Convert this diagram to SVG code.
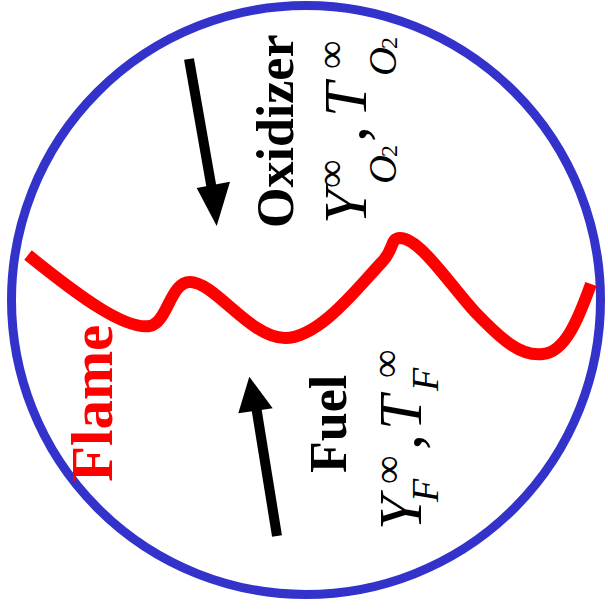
<svg xmlns="http://www.w3.org/2000/svg" width="608" height="615" viewBox="0 0 608 615">
  <style>
    .lbl { font-family: "Liberation Serif", "Times New Roman", serif; font-weight: bold; }
    .m { font-family: "Liberation Serif", "Times New Roman", serif; font-style: italic; fill: #000; }
    .up { font-family: "Liberation Serif", "Times New Roman", serif; font-style: normal; fill: #000; }
  </style>
  <rect width="608" height="615" fill="#ffffff"/>
  <g id="boundary">
    <circle cx="306" cy="300" r="294.5" fill="none" stroke="#3333CC" stroke-width="9"/>
  </g>
  <g id="flame">
    <path d="M 28,255 C 80,297 125,330 150,326 C 168,322 170,282 190,282 C 215,282 250,338 285,338 C 320,338 360,285 382,262 C 394,250 390,238 400,238 C 420,238 450,285 475,312 C 500,338 520,357 543,354 C 565,352 578,320 591,284" fill="none" stroke="#FF0000" stroke-width="12" stroke-linejoin="round"/>
    <text class="lbl" transform="translate(112,482) rotate(-90)" font-size="59" fill="#FF0000">Flame</text>
  </g>
  <g id="connectors">
    <line x1="189" y1="59" x2="212" y2="190" stroke="#000" stroke-width="10"/>
    <polygon points="196.7,188 230,181.7 216.7,226" fill="#000"/>
    <line x1="277" y1="536" x2="256" y2="406" stroke="#000" stroke-width="10"/>
    <polygon points="249.3,376.7 238.3,413.3 272.7,408.3" fill="#000"/>
  </g>
  <g id="oxidizer">
    <text class="lbl" transform="translate(293,228) rotate(-90)" font-size="52" fill="#000">Oxidizer</text>
    <g transform="translate(366,224) rotate(-90)">
      <text class="m" x="0" y="0" font-size="62">Y</text>
      <text class="up" x="36" y="-22" font-size="40">∞</text>
      <text class="m" x="40" y="30" font-size="40">O</text>
      <text class="up" x="67" y="31" font-size="24">2</text>
      <text class="up" x="82" y="0" font-size="64">,</text>
      <text class="m" x="107" y="0" font-size="62">T</text>
      <text class="up" x="155" y="-22" font-size="40">∞</text>
      <text class="m" x="148" y="30" font-size="40">O</text>
      <text class="up" x="175" y="31" font-size="24">2</text>
    </g>
  </g>
  <g id="fuel">
    <text class="lbl" transform="translate(346,473) rotate(-90)" font-size="52" fill="#000">Fuel</text>
    <g transform="translate(421,530) rotate(-90)">
      <text class="m" x="0" y="0" font-size="62">Y</text>
      <text class="up" x="46" y="-20" font-size="40">∞</text>
      <text class="m" x="28" y="17" font-size="38">F</text>
      <text class="up" x="80" y="0" font-size="64">,</text>
      <text class="m" x="100" y="0" font-size="62">T</text>
      <text class="up" x="152" y="-22" font-size="40">∞</text>
      <text class="m" x="139" y="17" font-size="38">F</text>
    </g>
  </g>
</svg>
